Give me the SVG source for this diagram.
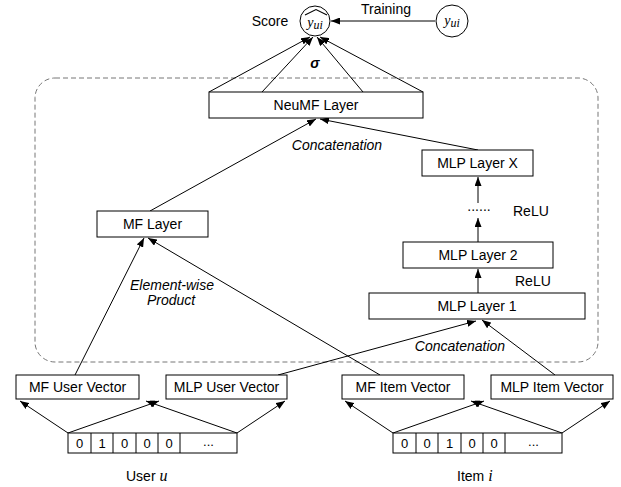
<svg xmlns="http://www.w3.org/2000/svg" width="621" height="487" viewBox="0 0 621 487">
<defs>
<marker id="ah" markerUnits="userSpaceOnUse" markerWidth="9" markerHeight="7" refX="9" refY="3.5" orient="auto">
<path d="M0,0 L9,3.5 L0,7 z" fill="#000"/>
</marker>
<style>
text{font-family:"Liberation Sans",Arial,Helvetica,sans-serif;font-size:14px;fill:#000}
.box{fill:#fff;stroke:#000;stroke-width:1}
.lbl{text-anchor:middle}
.it{font-style:italic}
.math{font-family:"Liberation Serif","DejaVu Serif",serif;font-style:italic}
.cell{font-size:13px;text-anchor:middle}
.conn line,.conn polyline{stroke:#000;stroke-width:1;fill:none}
.arr{marker-end:url(#ah)}
</style>
</defs>
<rect x="35" y="78" width="563" height="284" rx="20" ry="20" fill="none" stroke="#777" stroke-width="1" stroke-dasharray="5,3"/>

<g class="conn">
<line class="arr" x1="435" y1="21" x2="331" y2="21"/>
<line class="arr" x1="209" y1="92" x2="310" y2="37"/>
<line class="arr" x1="262" y1="92" x2="313" y2="37"/>
<line class="arr" x1="363" y1="92" x2="317" y2="37"/>
<line class="arr" x1="423" y1="92" x2="320" y2="37"/>
<line class="arr" x1="150" y1="211" x2="316" y2="119"/>
<line class="arr" x1="478" y1="150" x2="320" y2="119"/>
<line class="arr" x1="478" y1="203" x2="478" y2="177"/>
<line class="arr" x1="478" y1="242" x2="478" y2="218"/>
<line class="arr" x1="478" y1="293" x2="478" y2="269"/>
<line class="arr" x1="75" y1="375" x2="144" y2="238"/>
<line class="arr" x1="380" y1="375" x2="148" y2="238"/>
<line class="arr" x1="278" y1="375" x2="476" y2="321"/>
<line class="arr" x1="555" y1="375" x2="482" y2="320"/>
<line class="arr" x1="68" y1="433" x2="20" y2="401"/>
<line class="arr" x1="68" y1="433" x2="159" y2="401"/>
<line class="arr" x1="237" y1="433" x2="146" y2="401"/>
<line class="arr" x1="237" y1="433" x2="285" y2="401"/>
<line class="arr" x1="393" y1="433" x2="345" y2="401"/>
<line class="arr" x1="393" y1="433" x2="484" y2="401"/>
<line class="arr" x1="562" y1="433" x2="471" y2="401"/>
<line class="arr" x1="562" y1="433" x2="610" y2="401"/>
</g>

<g id="score">
<text x="270" y="26" class="lbl">Score</text>
<circle cx="315" cy="21" r="15" fill="#fff" stroke="#000"/>
<polyline points="305,15 316,9.5 327,15" fill="none" stroke="#000" stroke-width="1.1"/>
<text x="315" y="27" class="lbl math" font-size="17">y<tspan font-size="12" dy="2">ui</tspan></text>
</g>
<g id="target">
<circle cx="452" cy="21" r="16" fill="#fff" stroke="#000"/>
<text x="452" y="25" class="lbl math" font-size="17">y<tspan font-size="12" dy="2">ui</tspan></text>
<text x="386" y="14" class="lbl" font-size="13.5">Training</text>
</g>
<text x="315" y="68" class="lbl" font-family="'DejaVu Serif',serif" font-weight="bold" font-style="italic" font-size="13">σ</text>

<g id="neumf"><rect class="box" x="209" y="92" width="214" height="26"/><text x="316" y="110" class="lbl">NeuMF Layer</text></g>
<text x="337" y="150" class="lbl it">Concatenation</text>
<g id="mflayer"><rect class="box" x="97" y="211" width="111" height="26"/><text x="152.5" y="229" class="lbl">MF Layer</text></g>
<g id="mlpx"><rect class="box" x="422" y="150" width="111" height="26"/><text x="477.5" y="168" class="lbl">MLP Layer X</text></g>
<text x="479" y="211" class="lbl">......</text>
<text x="513" y="216">ReLU</text>
<g id="mlp2"><rect class="box" x="403" y="242" width="150" height="26"/><text x="478" y="260" class="lbl">MLP Layer 2</text></g>
<text x="515" y="286">ReLU</text>
<g id="mlp1"><rect class="box" x="369" y="293" width="216" height="26"/><text x="477" y="311" class="lbl">MLP Layer 1</text></g>
<text x="172" y="290" class="lbl it">Element-wise</text>
<text x="171" y="305" class="lbl it">Product</text>
<text x="460" y="351" class="lbl it">Concatenation</text>

<g id="mfuser"><rect class="box" x="16" y="375" width="123" height="24"/><text x="77.5" y="392" class="lbl">MF User Vector</text></g>
<g id="mlpuser"><rect class="box" x="166" y="375" width="121" height="24"/><text x="226.5" y="392" class="lbl">MLP User Vector</text></g>
<g id="mfitem"><rect class="box" x="342" y="375" width="122" height="24"/><text x="403" y="392" class="lbl">MF Item Vector</text></g>
<g id="mlpitem"><rect class="box" x="491" y="375" width="122" height="24"/><text x="552" y="392" class="lbl">MLP Item Vector</text></g>

<g id="userinput">
<rect class="box" x="68" y="433" width="169" height="20"/>
<line x1="91" y1="433" x2="91" y2="453" stroke="#000"/>
<line x1="113" y1="433" x2="113" y2="453" stroke="#000"/>
<line x1="136" y1="433" x2="136" y2="453" stroke="#000"/>
<line x1="158" y1="433" x2="158" y2="453" stroke="#000"/>
<line x1="180" y1="433" x2="180" y2="453" stroke="#000"/>
<text class="cell" x="79.5" y="448">0</text>
<text class="cell" x="102" y="448">1</text>
<text class="cell" x="124.5" y="448">0</text>
<text class="cell" x="147" y="448">0</text>
<text class="cell" x="169" y="448">0</text>
<text class="cell" x="208.5" y="446">...</text>
<text x="126" y="481" font-size="13.5">User <tspan class="math" font-size="16">u</tspan></text>
</g>
<g id="iteminput">
<rect class="box" x="393" y="433" width="169" height="20"/>
<line x1="416" y1="433" x2="416" y2="453" stroke="#000"/>
<line x1="438" y1="433" x2="438" y2="453" stroke="#000"/>
<line x1="461" y1="433" x2="461" y2="453" stroke="#000"/>
<line x1="483" y1="433" x2="483" y2="453" stroke="#000"/>
<line x1="505" y1="433" x2="505" y2="453" stroke="#000"/>
<text class="cell" x="404.5" y="448">0</text>
<text class="cell" x="427" y="448">0</text>
<text class="cell" x="449.5" y="448">1</text>
<text class="cell" x="472" y="448">0</text>
<text class="cell" x="494" y="448">0</text>
<text class="cell" x="533.5" y="446">...</text>
<text x="457" y="481" font-size="13.5">Item <tspan class="math" font-size="16">i</tspan></text>
</g>
</svg>
